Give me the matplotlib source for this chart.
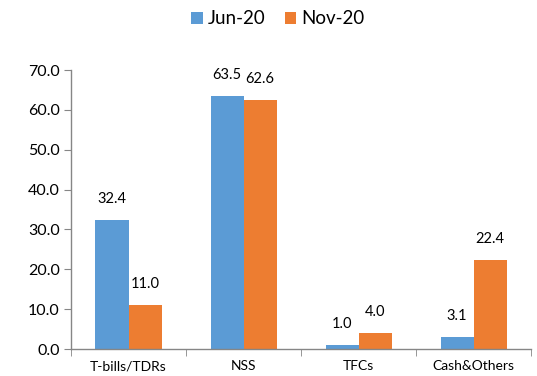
import numpy as np
import matplotlib.pyplot as plt

plt.rcParams['font.family'] = ['Lato', 'DejaVu Sans']

categories = ['T-bills/TDRs', 'NSS', 'TFCs', 'Cash&Others']
jun20 = [32.4, 63.5, 1.0, 3.1]
nov20 = [11.0, 62.6, 4.0, 22.4]
series_names = ['Jun-20', 'Nov-20']

blue = '#5B9BD5'
orange = '#ED7D31'

fig = plt.figure(figsize=(5.37, 3.76), dpi=100)
ax = fig.add_axes([0.1322, 0.0718, 0.857, 0.742])

x = np.arange(len(categories))
w = 0.287
b1 = ax.bar(x - w / 2, jun20, w, color=blue, label=series_names[0])
b2 = ax.bar(x + w / 2, nov20, w, color=orange, label=series_names[1])

for bars, vals in [(b1, jun20), (b2, nov20)]:
    for r, v in zip(bars, vals):
        ax.annotate(f'{v:.1f}', (r.get_x() + r.get_width() / 2, v),
                    xytext=(0, 10), textcoords='offset points',
                    ha='center', va='bottom', fontsize=10.5, color='#000000')

ax.set_xlim(-0.5, len(categories) - 0.5)
ax.set_ylim(0, 70)
ax.set_yticks(np.arange(0, 71, 10))
ax.set_yticklabels([f'{t:.1f}' for t in np.arange(0, 71, 10)], fontsize=11.5)

ax.set_xticks(x)
ax.set_xticklabels(categories, fontsize=10)
ax.tick_params(axis='x', length=0, pad=8)
ax.set_xticks(np.arange(-0.5, len(categories)), minor=True)
ax.tick_params(axis='x', which='minor', length=5, color='#868686', direction='out')
ax.tick_params(axis='y', length=5, color='#868686', direction='out', pad=3)

for s in ['top', 'right']:
    ax.spines[s].set_visible(False)
for s in ['left', 'bottom']:
    ax.spines[s].set_color('#868686')
    ax.spines[s].set_linewidth(1)

fig.legend(handles=[b1, b2], loc='center', bbox_to_anchor=(0.518, 0.95), ncol=2,
           frameon=False, fontsize=13.5, handlelength=0.6, handleheight=0.6,
           handletextpad=0.3, columnspacing=1.0)

fig.savefig('out.png', dpi=100)
